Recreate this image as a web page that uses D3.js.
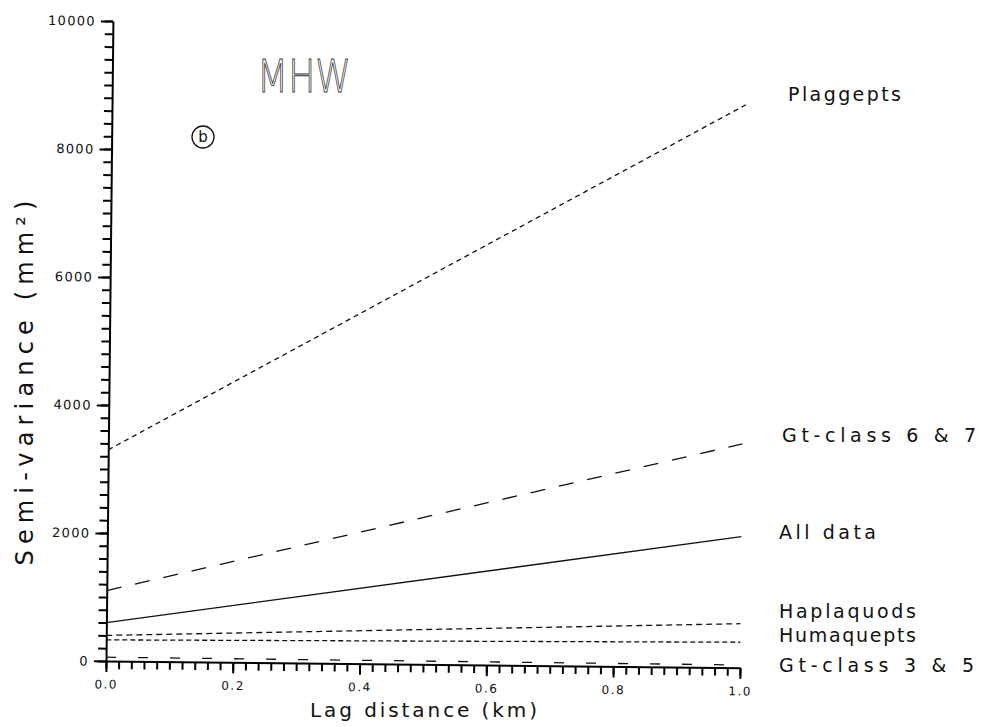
<!DOCTYPE html>
<html>
<head>
<meta charset="utf-8">
<script src="https://cdn.jsdelivr.net/npm/d3@7"></script>
<style>
  body { margin: 0; background: #fff; }
  text { font-family: "DejaVu Sans", sans-serif; fill: #111; }
</style>
</head>
<body>
<div id="chart"></div>
<script>
// lag distance of the fitted variogram lines (km)
var lagKm = [0.0, 1.0];

// series names, in the order of the labels on the right
var seriesNames = ["Plaggepts", "Gt-class 6 & 7", "All data", "Haplaquods", "Humaquepts", "Gt-class 3 & 5"];

// semi-variance (mm2) at lag 0.0 and 1.0
var plaggepts = [3300, 8800];
var gtClass67 = [1100, 3500];
var allData = [600, 2050];
var haplaquods = [400, 690];
var humaquepts = [330, 400];
var gtClass35 = [60, 45];

// tick labels
var yMajorTicks = [0, 2000, 4000, 6000, 8000, 10000];
var xMajorTicks = [0.0, 0.2, 0.4, 0.6, 0.8, 1.0];

var seriesValues = [plaggepts, gtClass67, allData, haplaquods, humaquepts, gtClass35];

// Set the dimensions of the graph
var width = 981;
var height = 727;
var x0 = 106, x1 = 740;   // plot left / right
var yBottom = 661, yTop = 21;

var svg = d3.select("#chart")
  .append("svg")
  .attr("width", width)
  .attr("height", height);

// the scanned figure is turned a little clockwise
var plot = svg.append("g")
  .attr("transform", "rotate(0.62," + x0 + "," + yBottom + ")");

var x = d3.scaleLinear().domain([0, 1]).range([x0, x1]);
var y = d3.scaleLinear().domain([0, 10000]).range([yBottom, yTop]);

// minor ticks: every 200 on y, every 0.02 on x (no labels)
plot.append("g")
  .attr("transform", "translate(" + x0 + ",0)")
  .call(d3.axisLeft(y).tickValues(d3.range(0, 10001, 200)).tickSize(8).tickFormat(() => ""))
  .call(g => g.select(".domain").remove())
  .call(g => g.selectAll(".tick line").attr("stroke", "#000").attr("stroke-width", 2));

plot.append("g")
  .attr("transform", "translate(0," + yBottom + ")")
  .call(d3.axisBottom(x).tickValues(d3.range(0, 51).map(i => i / 50)).tickSize(8).tickFormat(() => ""))
  .call(g => g.select(".domain").remove())
  .call(g => g.selectAll(".tick line").attr("stroke", "#000").attr("stroke-width", 2));

// Y axis with labels
var yAxis = plot.append("g")
  .attr("transform", "translate(" + x0 + ",0)")
  .call(d3.axisLeft(y).tickValues(yMajorTicks).tickSize(12).tickSizeOuter(0).tickPadding(5).tickFormat(d3.format("d")));
yAxis.select(".domain").attr("stroke", "#000").attr("stroke-width", 2);
yAxis.selectAll(".tick line").attr("stroke", "#000").attr("stroke-width", 2);
yAxis.selectAll("text")
  .style("font-size", "13px")
  .style("letter-spacing", "1.3px");

// X axis with labels
var xAxis = plot.append("g")
  .attr("transform", "translate(0," + yBottom + ")")
  .call(d3.axisBottom(x).tickValues(xMajorTicks).tickSize(11).tickSizeOuter(0).tickPadding(8).tickFormat(d3.format(".1f")));
xAxis.select(".domain").attr("stroke", "#000").attr("stroke-width", 2);
xAxis.selectAll(".tick line").attr("stroke", "#000").attr("stroke-width", 2);
xAxis.selectAll("text")
  .style("font-size", "12px")
  .style("letter-spacing", "1.5px");

// line styles of the six fits
var dashes = ["5,4", "15,14", null, "6,4", "5,3", "10,22"];

var line = d3.line()
  .x((d, i) => x(lagKm[i]))
  .y(d => y(d));

plot.selectAll(".fit")
  .data(seriesValues)
  .enter()
  .append("path")
  .attr("class", "fit")
  .attr("d", d => line(d))
  .attr("fill", "none")
  .attr("stroke", "#111")
  .attr("stroke-width", 1.3)
  .attr("stroke-dasharray", (d, i) => dashes[i]);

// labels to the right of the lines
var labelPos = [
  { x: 788, y: 101, w: 113 },
  { x: 782, y: 442, w: 194 },
  { x: 779, y: 539, w: 97 },
  { x: 779, y: 618, w: 137 },
  { x: 779, y: 642, w: 137 },
  { x: 779, y: 672, w: 195 }
];

svg.selectAll(".label")
  .data(seriesNames)
  .enter()
  .append("text")
  .attr("class", "label")
  .attr("x", (d, i) => labelPos[i].x)
  .attr("y", (d, i) => labelPos[i].y)
  .attr("textLength", (d, i) => labelPos[i].w)
  .style("font-size", "19px")
  .text(d => d);

// title and panel letter
svg.append("text")
  .attr("x", 257)
  .attr("y", 92)
  .attr("textLength", 94)
  .attr("lengthAdjust", "spacingAndGlyphs")
  .style("font-size", "44px")
  .style("font-weight", 200)
  .style("fill", "#fff")
  .style("stroke", "#333")
  .style("stroke-width", 0.9)
  .text("MHW");

svg.append("circle")
  .attr("cx", 203)
  .attr("cy", 137)
  .attr("r", 11)
  .attr("fill", "none")
  .attr("stroke", "#111")
  .attr("stroke-width", 1.3);

svg.append("text")
  .attr("x", 203)
  .attr("y", 142)
  .attr("text-anchor", "middle")
  .style("font-size", "15px")
  .text("b");

// axis titles
svg.append("text")
  .attr("transform", "translate(33,383) rotate(-90)")
  .attr("text-anchor", "middle")
  .attr("textLength", 365)
  .style("font-size", "24px")
  .text("Semi-variance (mm²)");

svg.append("text")
  .attr("x", 310)
  .attr("y", 717)
  .attr("textLength", 227)
  .style("font-size", "20px")
  .text("Lag distance (km)");
</script>
</body>
</html>
